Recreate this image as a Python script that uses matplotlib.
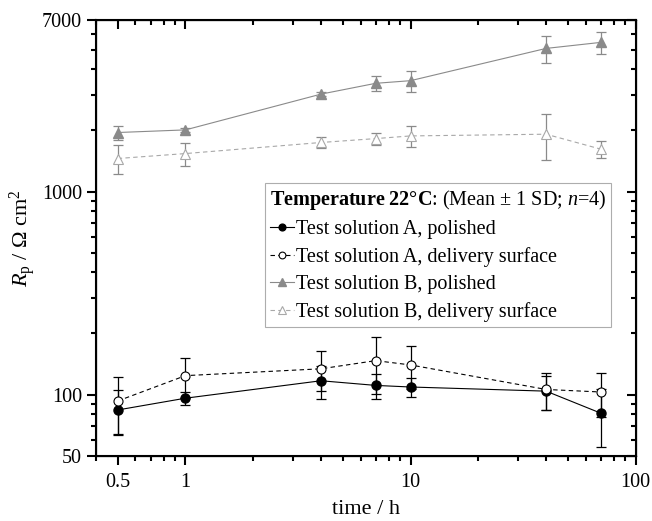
import matplotlib.pyplot as plt
import matplotlib.ticker as mticker
import numpy as np

plt.rcParams['font.family'] = 'Liberation Serif'
plt.rcParams['mathtext.fontset'] = 'custom'
plt.rcParams['mathtext.rm'] = 'Liberation Serif'
plt.rcParams['mathtext.it'] = 'Liberation Serif:italic'
plt.rcParams['mathtext.bf'] = 'Liberation Serif:bold'

# time points (h)
time = [0.5, 1, 4, 7, 10, 40, 70]

# Test solution A
a_pol = [84, 96, 117, 111, 109, 104, 81]
a_pol_sd = [21, 7, 22, 16, 12, 20, 26]
a_del = [93, 124, 134, 147, 140, 106, 103]
a_del_sd = [29, 28, 30, 46, 33, 22, 25]

# Test solution B
b_pol = [1954, 2013, 3020, 3414, 3518, 5072, 5431]
b_pol_sd = [160, 40, 70, 280, 430, 750, 660]
b_del = [1455, 1539, 1745, 1824, 1880, 1917, 1618]
b_del_sd = [235, 200, 107, 130, 215, 480, 157]

fig = plt.figure(figsize=(6.52, 5.21), dpi=100)
ax = fig.add_axes([0.147, 0.1253, 0.828, 0.8363])

gray = '#8a8a8a'
lgray = '#a8a8a8'

# error bars
ax.errorbar(time, a_pol, yerr=a_pol_sd, fmt='none', ecolor='k', elinewidth=0.9, capsize=3.5, capthick=0.9)
ax.errorbar(time, a_del, yerr=a_del_sd, fmt='none', ecolor='k', elinewidth=0.9, capsize=3.5, capthick=0.9)
ax.errorbar(time, b_pol, yerr=b_pol_sd, fmt='none', ecolor=gray, elinewidth=0.9, capsize=3.5, capthick=0.9)
ax.errorbar(time, b_del, yerr=b_del_sd, fmt='none', ecolor=gray, elinewidth=0.9, capsize=3.5, capthick=0.9)

# lines + markers
ax.plot(time, a_pol, '-', color='k', lw=0.8, marker='o', ms=6.5, mfc='k', mec='k',
        label='Test solution A, polished')
ax.plot(time, a_del, '--', color='k', lw=0.8, dashes=(4, 3), marker='o', ms=6.5, mfc='white', mec='k',
        mew=0.8, label='Test solution A, delivery surface')
ax.plot(time, b_pol, '-', color=gray, lw=0.8, marker='^', ms=7, mfc=gray, mec=gray,
        label='Test solution B, polished')
ax.plot(time, b_del, '--', color=lgray, lw=0.8, dashes=(4, 3), marker='^', ms=7, mfc='white', mec=lgray,
        mew=0.8, label='Test solution B, delivery surface')

ax.set_xscale('log')
ax.set_yscale('log')
ax.set_xlim(0.4, 100)
ax.set_ylim(50, 7000)

ax.set_xticks([0.5, 1, 10, 100])
ax.set_xticklabels(['0.5', '1', '10', '100'])
ax.xaxis.set_minor_locator(mticker.LogLocator(base=10, subs=np.arange(2, 10)))
ax.xaxis.set_minor_formatter(mticker.NullFormatter())
ax.set_yticks([50, 100, 1000, 7000])
ax.set_yticklabels(['50', '100', '1000', '7000'])
ax.yaxis.set_minor_locator(mticker.LogLocator(base=10, subs=np.arange(2, 10)))
ax.yaxis.set_minor_formatter(mticker.NullFormatter())

for s in ax.spines.values():
    s.set_linewidth(1.5)
ax.tick_params(which='major', direction='out', length=6.5, width=1.5, labelsize=14.5)
ax.tick_params(axis='x', which='major', pad=6)
ax.tick_params(which='minor', direction='out', length=3.5, width=1.5)

# top / right inward ticks
axt = ax.twiny()
axt.set_xscale('log')
axt.set_xlim(ax.get_xlim())
axt.set_xticks([0.5, 1, 10, 100])
axt.xaxis.set_minor_locator(mticker.LogLocator(base=10, subs=np.arange(2, 10)))
axt.tick_params(which='major', direction='in', length=6.5, width=1.5, labeltop=False)
axt.tick_params(which='minor', direction='in', length=3.5, width=1.5)
axr = ax.twinx()
axr.set_yscale('log')
axr.set_ylim(ax.get_ylim())
axr.set_yticks([50, 100, 1000, 7000])
axr.yaxis.set_minor_locator(mticker.LogLocator(base=10, subs=np.arange(2, 10)))
axr.tick_params(which='major', direction='in', length=6.5, width=1.5, labelright=False)
axr.tick_params(which='minor', direction='in', length=3.5, width=1.5)
axr.yaxis.set_minor_formatter(mticker.NullFormatter())

ax.set_xlabel('time / h', fontsize=16, labelpad=6)
ax.set_ylabel(r'$R_\mathrm{p}$ / Ω cm$^2$', fontsize=16, labelpad=3)

leg = ax.legend(loc='upper left', bbox_to_anchor=(0.313, 0.627), borderaxespad=0,
                fontsize=14.5, frameon=True, fancybox=False, edgecolor='#999999',
                handlelength=1.2, handletextpad=0.1, labelspacing=0.4, borderpad=0.25,
                markerscale=0.75,
                title=r'$\mathbf{Temperature\ 22°C}$: (Mean ± 1 SD; $n$=4)',
                title_fontsize=14.5, alignment='left')
leg.get_frame().set_linewidth(0.8)

fig.savefig('out.png', dpi=100)
